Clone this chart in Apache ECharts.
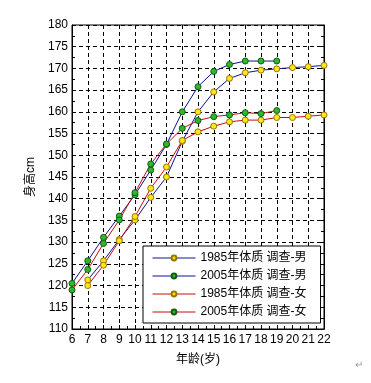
<!DOCTYPE html>
<html><head><meta charset="utf-8">
<script src="https://cdn.jsdelivr.net/npm/echarts@6/dist/echarts.min.js"></script>
<style>html,body{margin:0;padding:0;background:#fff}#c{width:371px;height:383px}</style>
</head><body><div id="c"></div>
<script>
// ---- data ----
const ages2005 = [6, 7, 8, 9, 10, 11, 12, 13, 14, 15, 16, 17, 18, 19];
const ages1985 = [7, 8, 9, 10, 11, 12, 13, 14, 15, 16, 17, 18, 19, 20, 21, 22];
const boys1985  = [121.3, 125.7, 130.6, 135.1, 140.3, 145.0, 153.2, 160.0, 164.6, 167.7, 169.0, 169.6, 169.9, 170.2, 170.4, 170.7];
const boys2005  = [120.5, 125.7, 131.1, 136.0, 140.9, 146.6, 152.5, 160.0, 165.8, 169.3, 170.9, 171.7, 171.7, 171.7];
const girls1985 = [120.0, 124.7, 130.3, 135.9, 142.4, 147.3, 153.4, 155.4, 156.7, 157.7, 158.1, 158.1, 158.7, 158.7, 159.0, 159.3];
const girls2005 = [119.0, 123.7, 129.7, 135.1, 141.4, 148.0, 152.6, 156.2, 158.0, 158.9, 159.3, 159.8, 159.6, 160.3];
const seriesNames = ['1985年体质 调查-男', '2005年体质 调查-男', '1985年体质 调查-女', '2005年体质 调查-女'];
const xName = '年龄(岁)';
const yName = '身高cm';

const FONT = '"Liberation Sans", Arial, "Noto Sans CJK SC", sans-serif';
const BLUE = '#10109a', RED = '#cc0a0a';
const YELLOW = {color: '#ffe619', borderColor: '#9a7400', borderWidth: 1};
const GREEN = {color: '#2db82d', borderColor: '#0f5f0f', borderWidth: 1};

function pairs(xs, ys) { return xs.map((x, i) => [x, ys[i]]); }
function mk(name, xs, ys, lineColor, marker) {
  return {
    name, type: 'line', data: pairs(xs, ys),
    symbol: 'circle', symbolSize: 6, showSymbol: true,
    lineStyle: {color: lineColor, width: 1},
    itemStyle: marker,
    emphasis: {disabled: true}, animation: false
  };
}

const chart = echarts.init(document.getElementById('c'));
const axisCommon = {
  axisLine: {show: true, lineStyle: {color: '#000', width: 1}},
  axisTick: {show: true, inside: true, length: 4, lineStyle: {color: '#000'}},
  minorTick: {show: true, splitNumber: 2, length: 3, lineStyle: {color: '#000'}},
  splitLine: {show: true, lineStyle: {color: '#000', type: [4, 3], width: 1}},
  axisLabel: {color: '#000', fontFamily: FONT, fontSize: 12}
};
chart.setOption({
  animation: false,
  backgroundColor: '#fff',
  grid: {left: 72, right: 47, top: 25, bottom: 54, show: true, borderColor: '#000', borderWidth: 1, backgroundColor: 'transparent'},
  xAxis: Object.assign({}, axisCommon, {
    type: 'value', min: 6, max: 22, interval: 1,
    name: xName, nameLocation: 'middle', nameGap: 25,
    nameTextStyle: {fontFamily: FONT, fontSize: 12, color: '#000'},
    axisLabel: Object.assign({}, axisCommon.axisLabel, {margin: 5})
  }),
  yAxis: [
    Object.assign({}, axisCommon, {
      type: 'value', min: 110, max: 180, interval: 5,
      name: yName, nameLocation: 'middle', nameGap: 32,
      nameTextStyle: {fontFamily: FONT, fontSize: 12, color: '#000'},
      axisLabel: Object.assign({}, axisCommon.axisLabel, {margin: 4})
    }),
    {
      type: 'value', min: 110, max: 180, interval: 5, position: 'right',
      axisLine: {show: true, lineStyle: {color: '#000'}},
      axisTick: {show: true, inside: true, length: 4, lineStyle: {color: '#000'}},
      minorTick: {show: true, splitNumber: 2, length: 3, lineStyle: {color: '#000'}},
      axisLabel: {show: false}, splitLine: {show: false}
    }
  ],
  legend: {
    orient: 'vertical', left: 143, top: 246,
    padding: [5, 14, 4, 9], itemGap: 4, itemWidth: 43, itemHeight: 6,
    backgroundColor: '#fff', borderColor: '#000', borderWidth: 1,
    lineStyle: {width: 1},
    textStyle: {fontFamily: FONT, fontSize: 12, color: '#000', lineHeight: 14},
    data: seriesNames
  },
  series: [
    mk(seriesNames[0], ages1985, boys1985, BLUE, YELLOW),
    mk(seriesNames[1], ages2005, boys2005, BLUE, GREEN),
    mk(seriesNames[2], ages1985, girls1985, RED, YELLOW),
    mk(seriesNames[3], ages2005, girls2005, RED, GREEN)
  ],
  graphic: [{type: 'text', left: 355, top: 360, style: {text: '↵', fontSize: 10, fill: '#999', fontFamily: FONT}}]
});
</script></body></html>
